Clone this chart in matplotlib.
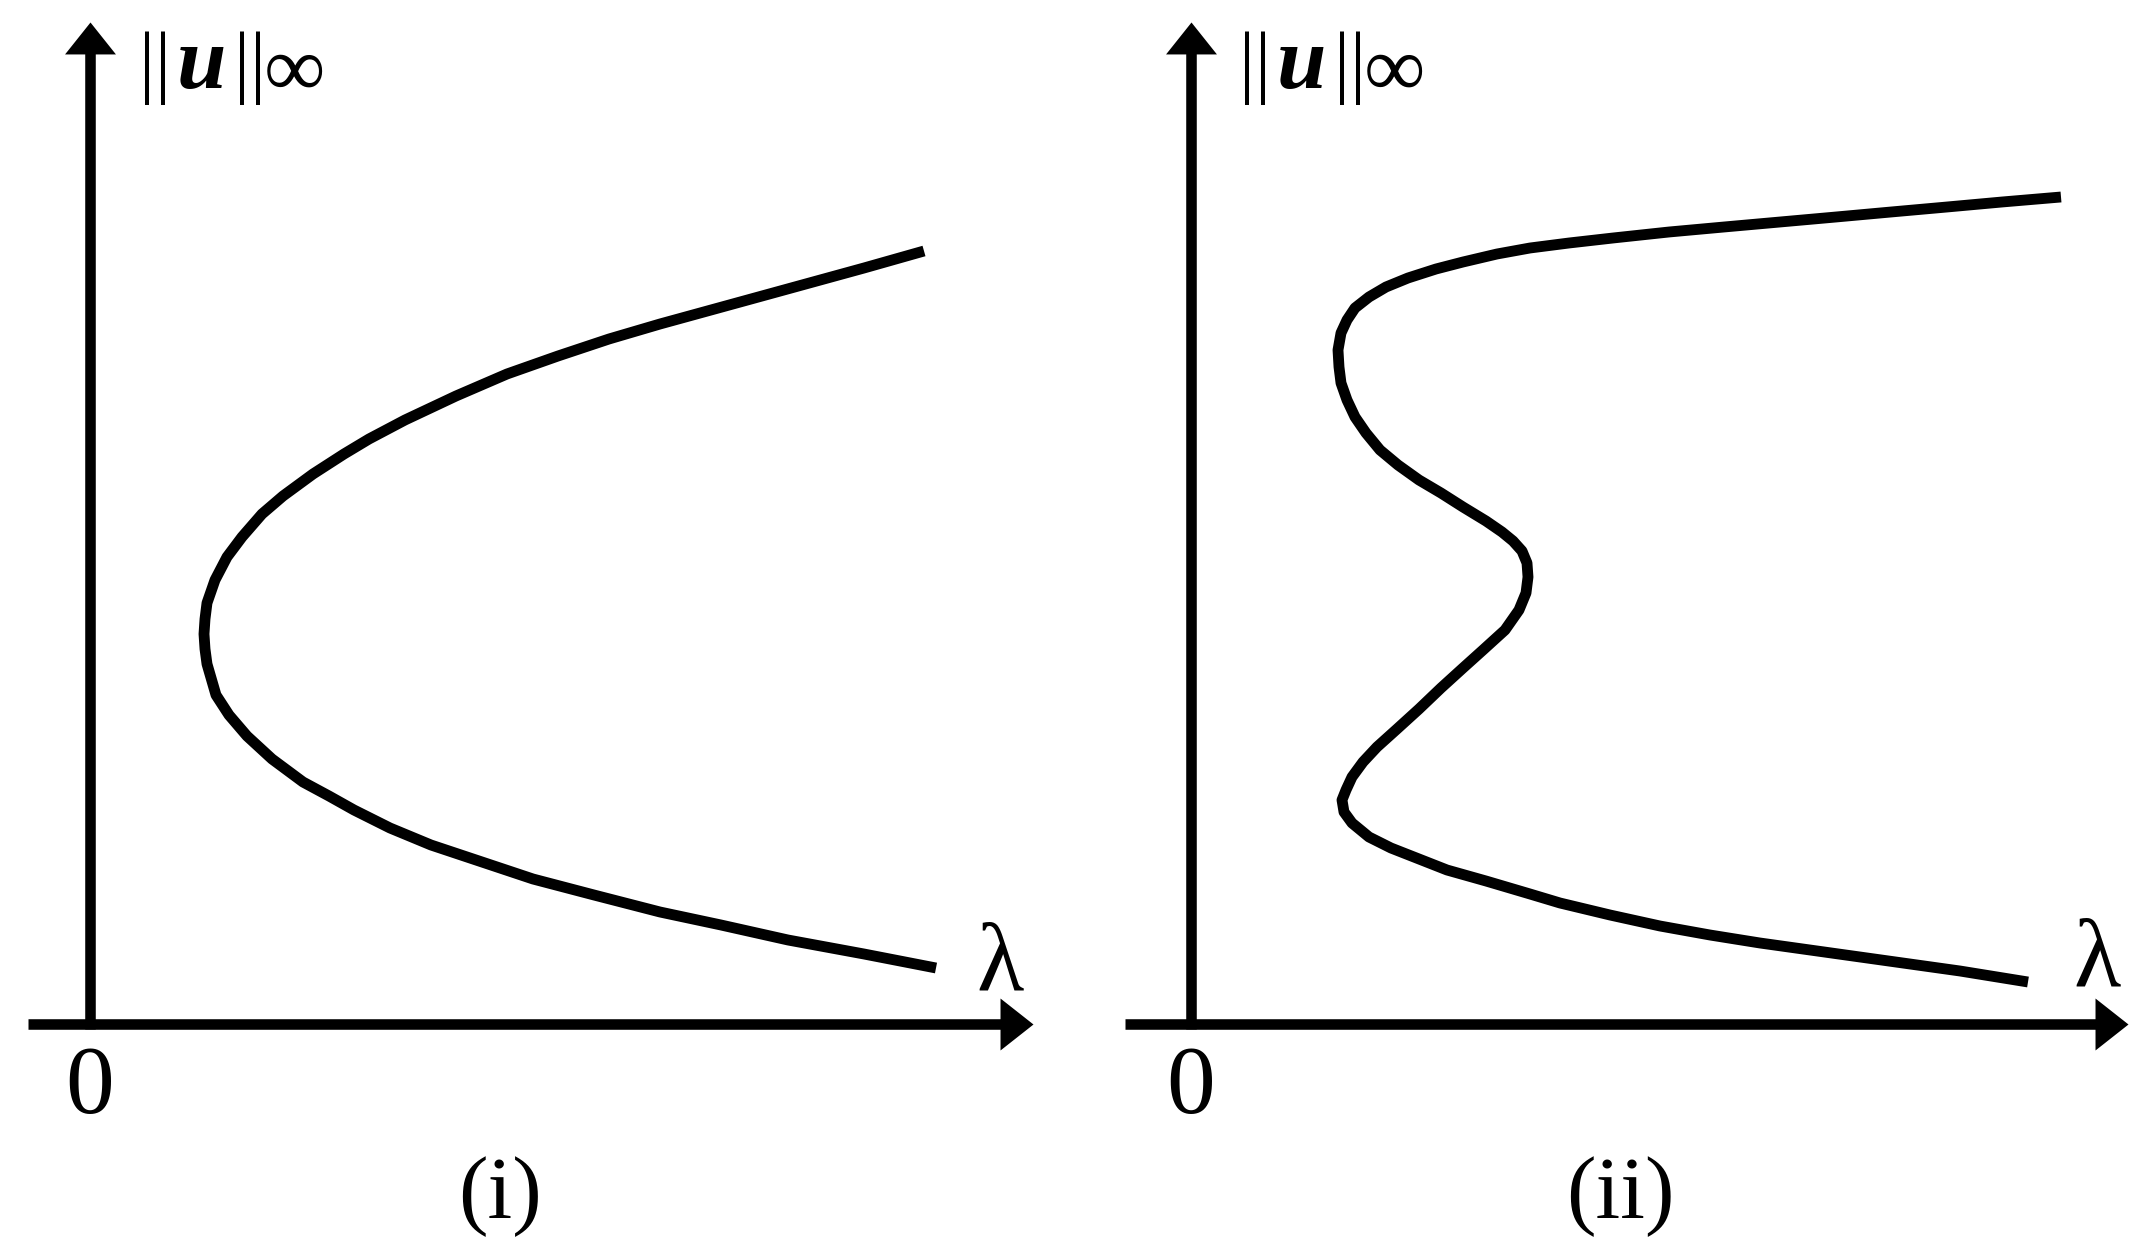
import numpy as np
import matplotlib.pyplot as plt

plt.rcParams['font.family'] = ['Liberation Serif', 'DejaVu Serif']

# bifurcation curve (i): one turning point
lam_i = [8.34, 7.74, 7.23, 6.72, 6.21, 5.70, 5.19, 4.68, 4.17, 3.66, 3.15, 2.79,
         2.54, 2.23, 1.93, 1.72, 1.52, 1.37, 1.25, 1.17, 1.15, 1.14, 1.15, 1.17,
         1.26, 1.39, 1.57, 1.82, 2.13, 2.39, 2.64, 3.00, 3.41, 3.92, 4.43, 5.04,
         5.70, 6.31, 6.98, 7.74, 8.46]
u_i = [7.73, 7.56, 7.42, 7.28, 7.14, 7.00, 6.85, 6.68, 6.50, 6.28, 6.04, 5.85,
       5.70, 5.50, 5.28, 5.10, 4.87, 4.67, 4.44, 4.21, 4.05, 3.90, 3.75, 3.60,
       3.29, 3.09, 2.88, 2.65, 2.42, 2.28, 2.14, 1.96, 1.79, 1.62, 1.45, 1.29,
       1.12, 0.99, 0.84, 0.70, 0.56]

# bifurcation curve (ii): S-shaped, three turning points
lam_ii = [8.70, 8.11, 7.56, 7.00, 6.45, 5.89, 5.33, 4.78, 4.22, 3.78, 3.39, 3.06,
          2.72, 2.45, 2.17, 1.95, 1.78, 1.64, 1.56, 1.50, 1.47, 1.48, 1.50, 1.56,
          1.64, 1.75, 1.89, 2.07, 2.28, 2.50, 2.72, 2.95, 3.11, 3.22, 3.31, 3.36,
          3.37, 3.35, 3.28, 3.14, 2.92, 2.72, 2.50, 2.28, 2.06, 1.86, 1.72, 1.61,
          1.55, 1.51, 1.53, 1.61, 1.78, 2.00, 2.28, 2.56, 2.95, 3.39, 3.69, 4.19,
          4.69, 5.19, 5.69, 6.19, 6.69, 7.19, 7.69, 8.37]
u_ii = [8.27, 8.22, 8.17, 8.12, 8.07, 8.02, 7.97, 7.92, 7.86, 7.81, 7.76, 7.70,
        7.62, 7.55, 7.46, 7.37, 7.27, 7.16, 7.04, 6.91, 6.74, 6.57, 6.41, 6.24,
        6.07, 5.91, 5.74, 5.59, 5.44, 5.31, 5.17, 5.03, 4.92, 4.83, 4.73, 4.61,
        4.47, 4.31, 4.14, 3.94, 3.74, 3.56, 3.36, 3.15, 2.95, 2.77, 2.62, 2.47,
        2.34, 2.24, 2.12, 2.01, 1.87, 1.76, 1.65, 1.54, 1.43, 1.30, 1.21, 1.09,
        0.98, 0.89, 0.81, 0.74, 0.67, 0.60, 0.53, 0.42]

panel_labels = ['(i)', '(ii)']

W, H = 2147, 1251
fig = plt.figure(figsize=(W / 100, H / 100), dpi=100)

# axes laid out so 1 data unit = 100 px, origin of each panel at its corner
ax1 = fig.add_axes([0, 0, 1073 / W, 1])
ax1.set_xlim(-0.90, 9.83)
ax2 = fig.add_axes([1073 / W, 0, 1074 / W, 1])
ax2.set_xlim(-1.18, 9.56)

head_right = [(0, 0), (-33, 26), (-33, -26)]
head_up = [(0, 0), (-25.5, -32), (25.5, -32)]


def draw_frame(ax, x_start, x_tip, y_tip, lam_pos, norm_x):
    ax.set_ylim(-2.27, 10.24)
    ax.axis('off')
    # axes with arrow heads
    ax.plot([x_start, x_tip - 0.2], [0, 0], color='k', lw=7.6, solid_capstyle='butt')
    ax.plot([0, 0], [-0.05, y_tip - 0.2], color='k', lw=7.6, solid_capstyle='butt')
    ax.plot([x_tip], [0], marker=head_right, markersize=47.5, color='k',
            markeredgewidth=0, clip_on=False)
    ax.plot([0], [y_tip], marker=head_up, markersize=46, color='k',
            markeredgewidth=0, clip_on=False)
    # labels
    ax.text(0, -0.89, '0', fontsize=70, ha='center', va='baseline')
    ax.text(lam_pos[0], lam_pos[1], 'λ', fontsize=70, ha='left', va='baseline')
    ax.text(norm_x, 9.36, '||', fontsize=58, ha='left', va='baseline')
    ax.text(norm_x + 0.38, 9.36, 'u', fontsize=64, fontweight='bold',
            fontstyle='italic', ha='left', va='baseline')
    ax.text(norm_x + 0.95, 9.36, '||', fontsize=58, ha='left', va='baseline')
    ax.text(norm_x + 1.25, 9.28, '∞', fontsize=62, ha='left', va='baseline')


draw_frame(ax1, -0.62, 9.43, 10.02, (8.86, 0.33), 0.49)
draw_frame(ax2, -0.66, 9.37, 10.02, (8.82, 0.37), 0.48)

ax1.plot(lam_i, u_i, color='k', lw=7.8, solid_capstyle='butt', solid_joinstyle='round')
ax2.plot(lam_ii, u_ii, color='k', lw=7.8, solid_capstyle='butt', solid_joinstyle='round')

ax1.text(4.10, -1.94, panel_labels[0], fontsize=64, ha='center', va='baseline')
ax2.text(4.29, -1.94, panel_labels[1], fontsize=64, ha='center', va='baseline')

fig.savefig('out.png', dpi=100, facecolor='white')
